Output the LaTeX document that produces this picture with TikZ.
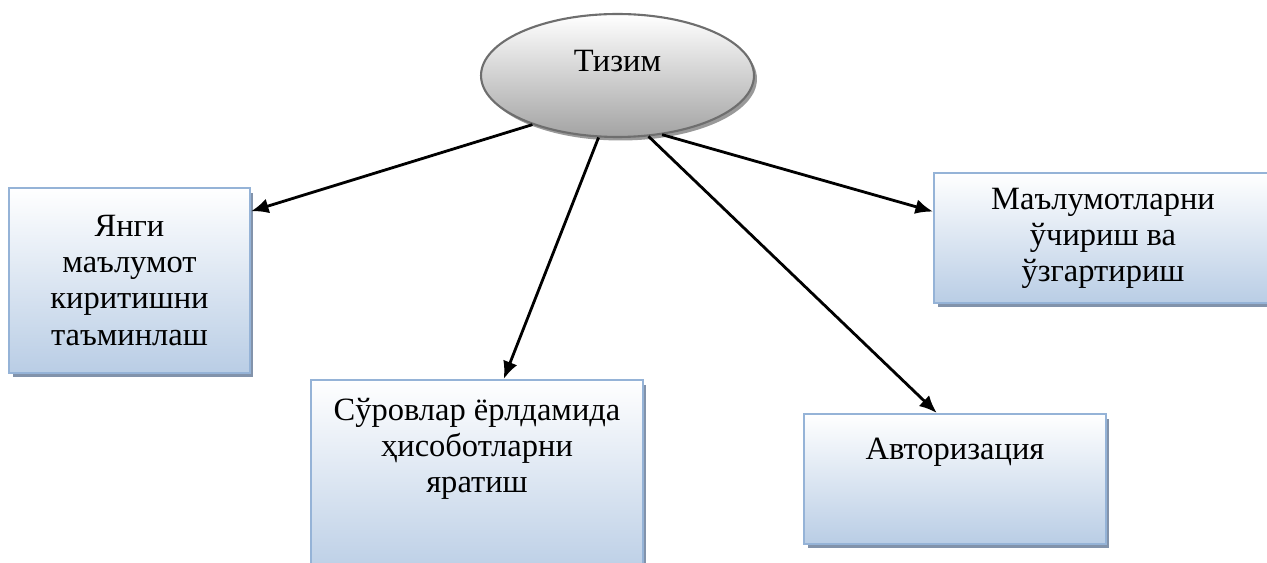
\documentclass[tikz,border=0pt]{standalone}
\usepackage{fontspec}
\setmainfont{Liberation Serif}
\usetikzlibrary{shapes.geometric,arrows.meta,calc,shadows}
\definecolor{boxline}{HTML}{95B3D7}
\definecolor{boxfill}{HTML}{B9CDE5}
\definecolor{boxshadow}{HTML}{8293AB}
\definecolor{ovalline}{HTML}{6E6E6E}
\definecolor{ovalfill}{HTML}{A3A3A3}
\definecolor{ovalshadow}{HTML}{999999}
\tikzset{
  task/.style={draw=boxline, line width=1.2pt, rectangle, top color=white, bottom color=boxfill,
    drop shadow={shadow xshift=0.07cm, shadow yshift=-0.09cm, fill=boxshadow, opacity=1},
    align=center, font=\fontsize{18.5}{20.5}\selectfont, inner sep=0pt},
  caption/.style={align=center, font=\fontsize{18.5}{20.5}\selectfont, inner sep=0pt},
  link/.style={-{Latex[length=10pt,width=8.5pt]}, line width=1.6pt},
}
\begin{document}
\begin{tikzpicture}[x=0.02cm, y=-0.02cm]
\useasboundingbox (0,0) rectangle (1267,563);
\clip (0,0) rectangle (1267,563);

% central system
\node[ellipse, draw=ovalline, line width=1.2pt, top color=white, bottom color=ovalfill,
  drop shadow={shadow xshift=0.06cm, shadow yshift=-0.07cm, fill=ovalshadow, opacity=1},
  minimum width=5.46cm, minimum height=2.46cm, font=\fontsize{18.5}{20.5}\selectfont,
  text height=12pt, text depth=16pt] (sys) at (617.5,75.5) {Тизим};

% functions
\node[task, minimum width=4.82cm, minimum height=3.7cm] (b1) at (129.5,280.5)
  {Янги\\маълумот\\киритишни\\таъминлаш};
\node[task, minimum width=6.64cm, minimum height=4cm,
  label={[caption, anchor=north, yshift=-0.38cm]north:Сўровлар ёрлдамида\\ҳисоботларни\\яратиш}]
  (b2) at (477,480) {};
\node[task, minimum width=6.76cm, minimum height=2.6cm] (b3) at (1103,238)
  {Маълумотларни\\ўчириш ва\\ўзгартириш};
\node[task, minimum width=6.04cm, minimum height=2.6cm,
  label={[caption, anchor=north, yshift=-0.5cm]north:Авторизация}]
  (b4) at (955,479) {};

% arrows
\draw[link] (sys.210) -- ($(b1.north east)!0.13!(b1.south east)$);
\draw[link] (sys.253) -- ($(b2.north west)!0.58!(b2.north east)$);
\draw[link] (sys.297) -- ($(b4.north west)!0.44!(b4.north east)$);
\draw[link] (sys.307) -- ($(b3.north west)!0.3!(b3.south west)$);
\end{tikzpicture}
\end{document}
